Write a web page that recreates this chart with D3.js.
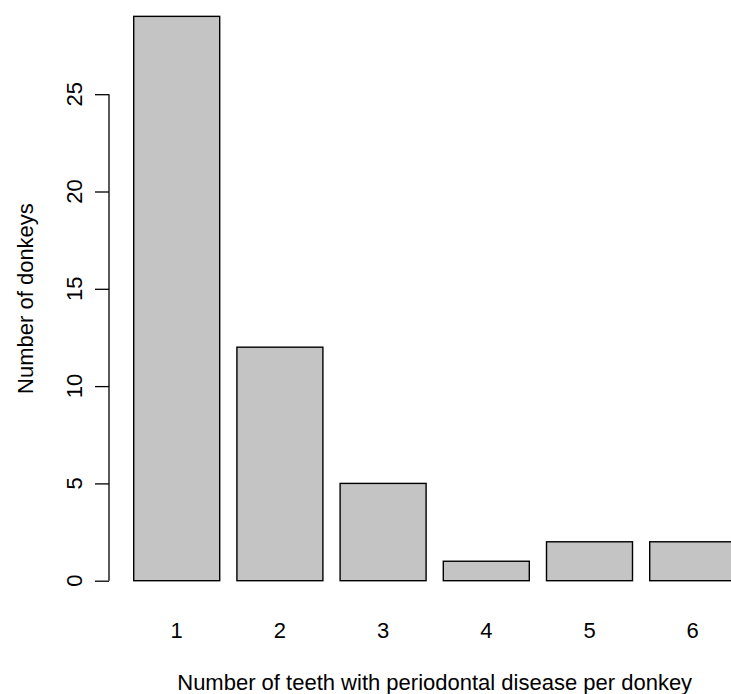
<!DOCTYPE html>
<html>
<head>
<meta charset="utf-8">
<script src="https://cdn.jsdelivr.net/npm/d3@7"></script>
<style>
  html, body { margin: 0; padding: 0; background: #fff; }
  svg { display: block; }
  text { font-family: "Liberation Sans", Arial, Helvetica, sans-serif; fill: #000; }
</style>
</head>
<body>
<svg id="chart" width="731" height="694"></svg>
<script>
// Teeth-with-disease counts per donkey
const categories = ["1", "2", "3", "4", "5", "6"];
const counts = [29, 12, 5, 1, 2, 2];
const yTicks = [0, 5, 10, 15, 20, 25];
const xTitle = "Number of teeth with periodontal disease per donkey";
const yTitle = "Number of donkeys";

const svg = d3.select("#chart");

// Bar layout in user units: width 1, gap 0.2 before each bar;
// the plotting region spans -0.08 .. 7.48 (4% padding), wider than the page
const barWidth = 1, barSpace = 0.2;
const x = d3.scaleLinear().domain([0, 7.2]).range([116.5, 735.7]);
const y = d3.scaleLinear().domain([0, 25]).range([580.7, 94.2]);
const plotMidX = (x(-0.08) + x(7.48)) / 2;
const plotMidY = (y(-1.16) + y(30.16)) / 2;

const fontSize = 22;

// Bars
svg.append("g")
  .selectAll("rect")
  .data(counts)
  .join("rect")
  .attr("x", (d, i) => x(barSpace + i * (barWidth + barSpace)))
  .attr("width", x(barWidth) - x(0))
  .attr("y", d => y(d))
  .attr("height", d => y(0) - y(d))
  .attr("fill", "#c4c4c4")
  .attr("stroke", "#000")
  .attr("stroke-width", 1.4);

// Category labels under the bars
svg.append("g")
  .selectAll("text")
  .data(categories)
  .join("text")
  .attr("x", (d, i) => x(barSpace + i * (barWidth + barSpace) + barWidth / 2))
  .attr("y", 638)
  .attr("text-anchor", "middle")
  .attr("font-size", fontSize)
  .text(d => d);

// Left axis
const axisX = 109;
const yAxis = d3.axisLeft(y).tickValues(yTicks).tickSize(14).tickFormat(d3.format("d"));
const gAxis = svg.append("g").attr("transform", `translate(${axisX},0)`).call(yAxis);
gAxis.select(".domain").remove();
gAxis.selectAll(".tick line").attr("stroke", "#000").attr("stroke-width", 1.3);
gAxis.selectAll(".tick text").remove();
gAxis.append("line")
  .attr("x1", 0).attr("x2", 0)
  .attr("y1", y(yTicks[0])).attr("y2", y(yTicks[yTicks.length - 1]))
  .attr("stroke", "#000").attr("stroke-width", 1.3);

// Rotated tick labels
svg.append("g")
  .selectAll("text")
  .data(yTicks)
  .join("text")
  .attr("transform", d => `translate(82,${y(d)}) rotate(-90)`)
  .attr("text-anchor", "middle")
  .attr("font-size", fontSize)
  .text(d => d);

// Axis titles, centred on the plotting region
svg.append("text")
  .attr("x", plotMidX)
  .attr("y", 690)
  .attr("text-anchor", "middle")
  .attr("font-size", fontSize)
  .text(xTitle);

svg.append("text")
  .attr("transform", `translate(33,${plotMidY}) rotate(-90)`)
  .attr("text-anchor", "middle")
  .attr("font-size", fontSize)
  .text(yTitle);
</script>
</body>
</html>
